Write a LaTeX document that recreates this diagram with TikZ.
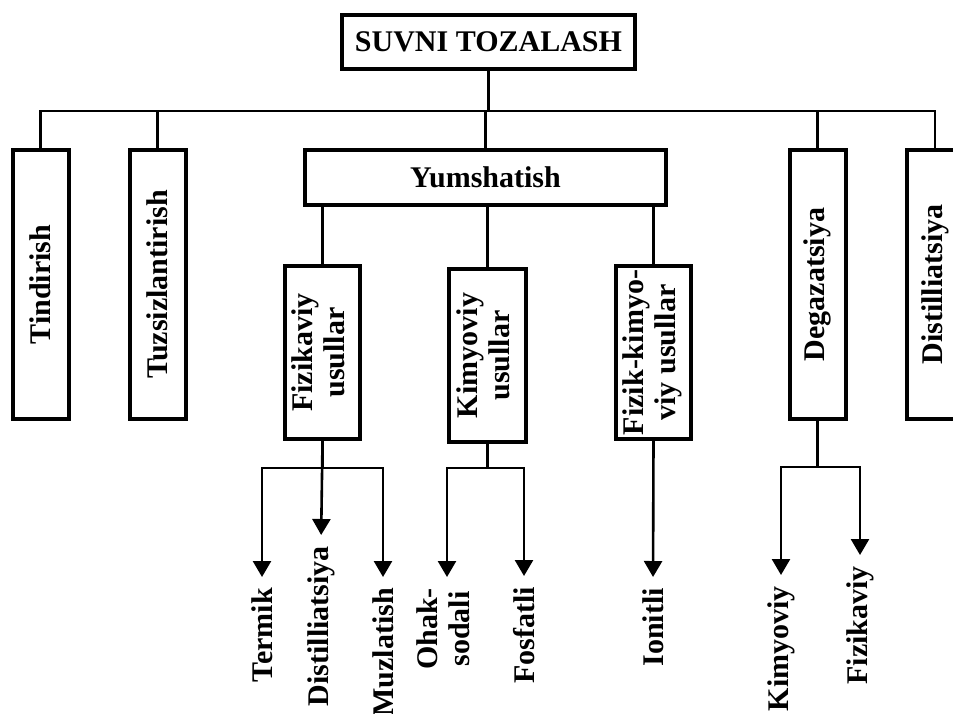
\documentclass[tikz,border=0pt]{standalone}
\usepackage{fontspec}
\usepackage{graphicx}
\setmainfont{Liberation Serif}
\usetikzlibrary{arrows.meta}
\newcommand{\rt}[1]{\rotatebox{90}{#1}}
\newcommand{\rtt}[2]{\rotatebox{90}{\begin{tabular}{@{}c@{}}#1\\#2\end{tabular}}}
\begin{document}
\begin{tikzpicture}[x=1pt,y=-1pt,
  txt/.style={font=\bfseries\fontsize{30}{32}\selectfont},
  box/.style={txt, draw, line width=4pt, inner sep=0pt},
  tallbox/.style={box, minimum width=56pt, minimum height=269pt},
  subbox/.style={box, minimum height=173pt},
  lbl/.style={txt, inner sep=0pt, anchor=north},
  conn/.style={line width=2.6pt},
  arr/.style={conn, -{Triangle[length=16pt,width=18pt]}, shorten >=11pt}]
\useasboundingbox (0,0) rectangle (953,713);

% top
\node[box, minimum width=293pt, minimum height=54pt] (top) at (488.5,42) {SUVNI TOZALASH};

% first level
\node[tallbox] (tind) at (40.5,284.5) {\rt{Tindirish}};
\node[tallbox] (tuz) at (157.5,284.5) {\rt{Tuzsizlantirish}};
\node[box, minimum width=361pt, minimum height=55pt] (yum) at (485.5,177.5) {Yumshatish};
\node[tallbox] (deg) at (817.5,284.5) {\rt{Degazatsiya}};
\node[tallbox] (dist) at (935,284.5) {\rt{Distilliatsiya}};

% second level
\node[subbox, minimum width=75pt] (fiz) at (322.5,352.5) {\rtt{Fizikaviy}{usullar}};
\node[subbox, minimum width=77pt] (kim) at (487.5,355.5) {\rtt{Kimyoviy}{usullar}};
\node[subbox, minimum width=75pt] (fk) at (653.5,352.5) {\rtt{Fizik-kimyo-}{viy usullar}};

% leaves
\node[lbl] (termik) at (262,588) {\rt{Termik}};
\node[lbl] (distl) at (321,546) {\rt{Distilliatsiya}};
\node[lbl] (muzl) at (383,588) {\rt{Muzlatish}};
\node[lbl] (ohak) at (447,588) {\rtt{Ohak-}{sodali}};
\node[lbl] (fosf) at (524,587) {\rt{Fosfatli}};
\node[lbl] (ionit) at (653,588) {\rt{Ionitli}};
\node[lbl] (kimv) at (781,586) {\rt{Kimyoviy}};
\node[lbl] (fizv) at (860,566) {\rt{Fizikaviy}};

% bus coordinates
\coordinate (bus) at (0,111);
\coordinate (fj) at (322.5,468);
\coordinate (kj) at (487.5,468);
\coordinate (dj) at (817.5,467);

% top connectors
\draw[conn] (top.south) -- (top.south |- bus);
\draw[conn] (tind.north) |- (dist.north |- bus) -- (dist.north);
\draw[conn] (tuz.north) -- (tuz.north |- bus);
\draw[conn] (yum.north) -- (yum.north |- bus);
\draw[conn] (deg.north) -- (deg.north |- bus);

% yumshatish connectors
\draw[conn] (yum.south -| fiz.north) -- (fiz.north);
\draw[conn] (yum.south -| kim.north) -- (kim.north);
\draw[conn] (yum.south -| fk.north) -- (fk.north);

% fizikaviy usullar
\draw[conn] (fiz.south) -- (fj);
\draw[arr] (fj) -| (termik.north);
\draw[arr] (fj) -| (muzl.north);
\draw[arr] (fiz.south) -- (distl.north);

% kimyoviy usullar
\draw[conn] (kim.south) -- (kj);
\draw[arr] (kj) -| (ohak.north);
\draw[arr] (kj) -| (fosf.north);

% fizik-kimyoviy
\draw[arr] (fk.south) -- (ionit.north);

% degazatsiya
\draw[conn] (deg.south) -- (dj);
\draw[arr] (dj) -| (kimv.north);
\draw[arr] (dj) -| (fizv.north);
\end{tikzpicture}
\end{document}
